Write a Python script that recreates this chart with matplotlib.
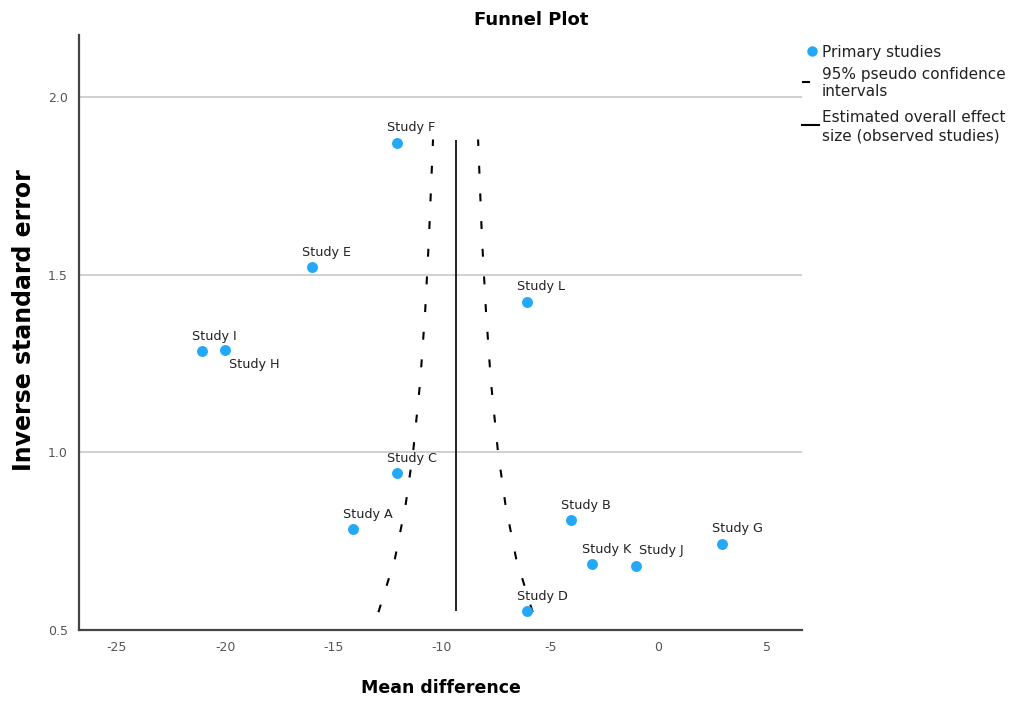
import matplotlib
matplotlib.use("Agg")
import matplotlib.pyplot as plt
from matplotlib.lines import Line2D

plt.rcParams['font.family'] = ['DejaVu Sans']

# ---- data ----
studies = ["Study A", "Study B", "Study C", "Study D", "Study E", "Study F",
           "Study G", "Study H", "Study I", "Study J", "Study K", "Study L"]
mean_diff = [-14.1, -4.05, -12.05, -6.05, -16.0, -12.05,
             2.95, -20.0, -21.05, -1.05, -3.05, -6.05]
inv_se = [0.784, 0.809, 0.941, 0.553, 1.52, 1.871,
          0.742, 1.289, 1.284, 0.680, 0.685, 1.424]

overall_effect = -9.37
effect_y_range = [0.555, 1.875]

# 95% pseudo confidence interval curves
ci_y = [0.55, 0.70, 0.85, 1.00, 1.20, 1.40, 1.60, 1.88]
ci_lower = [-12.93, -12.17, -11.68, -11.33, -11.00, -10.77, -10.60, -10.41]
ci_upper = [-5.81, -6.57, -7.06, -7.41, -7.74, -7.97, -8.15, -8.33]

x_ticks = [-25, -20, -15, -10, -5, 0, 5]
y_ticks = [0.5, 1.0, 1.5, 2.0]

# label offsets in pixels (dx, dy) relative to point
label_offsets = {
    "Study H": (4, -15, 'left'),
    "Study J": (3, 16, 'left'),
}
default_offset = (-10, 15, 'left')

blue = "#24A8F8"

fig = plt.figure(figsize=(10.29, 7.02), dpi=100)
ax = fig.add_axes([79/1029, 1-630/702, (802-79)/1029, (630-35)/702])

ax.set_xlim(-26.75, 6.62)
ax.set_ylim(0.5, 2.174)

# gridlines
for yv in y_ticks[1:]:
    ax.axhline(yv, color="#c4c4c4", lw=1.1, zorder=0)

# CI curves
ax.plot(ci_lower, ci_y, color="black", lw=1.5, dashes=(3.8, 9.5), zorder=2)
ax.plot(ci_upper, ci_y, color="black", lw=1.5, dashes=(3.8, 9.5), zorder=2)

# overall effect
ax.plot([overall_effect, overall_effect], effect_y_range, color="#222222", lw=1.4, zorder=2)

# points
ax.scatter(mean_diff, inv_se, s=62, color=blue, zorder=3, linewidths=0)

for name, x, y in zip(studies, mean_diff, inv_se):
    dx, dy, ha = label_offsets.get(name, default_offset)
    ax.annotate(name, (x, y), xytext=(dx, dy), textcoords='offset pixels',
                ha=ha, va='center', fontsize=9.2, color="#222222", zorder=4)

ax.set_xticks(x_ticks)
ax.set_yticks(y_ticks)
ax.set_xticklabels([str(v) for v in x_ticks])
ax.set_yticklabels([f"{v:.1f}" for v in y_ticks])
ax.tick_params(length=0, labelsize=9, labelcolor="#555555", pad=8)

for s in ["top", "right"]:
    ax.spines[s].set_visible(False)
for s in ["left", "bottom"]:
    ax.spines[s].set_color("#444444")
    ax.spines[s].set_linewidth(1.6)

ax.set_xlabel("Mean difference", fontsize=12.5, fontweight='bold', labelpad=18)
ax.set_ylabel("Inverse standard error", fontsize=17, fontweight='bold')
ax.yaxis.set_label_coords((36-79)/723, (630-320)/595)

fig.text(531/1029, 1-20/702, "Funnel Plot", ha='center', va='center',
         fontsize=13, fontweight='bold')

# legend (manual)
def fx(px):
    return px/1029
def fy(py):
    return 1-py/702

fig.add_artist(Line2D([fx(812)], [fy(51)], marker='o', markersize=7.5, color=blue,
                      markeredgewidth=0, transform=fig.transFigure))
fig.text(fx(822), fy(52), "Primary studies", ha='left', va='center', fontsize=11, color="#222222")
fig.add_artist(Line2D([fx(803), fx(809)], [fy(82), fy(82)], color="black", lw=1.5,
                      transform=fig.transFigure))
fig.text(fx(822), fy(83), "95% pseudo confidence\nintervals", ha='left', va='center',
         fontsize=11, color="#222222", linespacing=1.25)
fig.add_artist(Line2D([fx(802), fx(819)], [fy(125), fy(125)], color="black", lw=1.5,
                      transform=fig.transFigure))
fig.text(fx(822), fy(127), "Estimated overall effect\nsize (observed studies)", ha='left',
         va='center', fontsize=11, color="#222222", linespacing=1.25)

fig.savefig("out.png", dpi=100)
